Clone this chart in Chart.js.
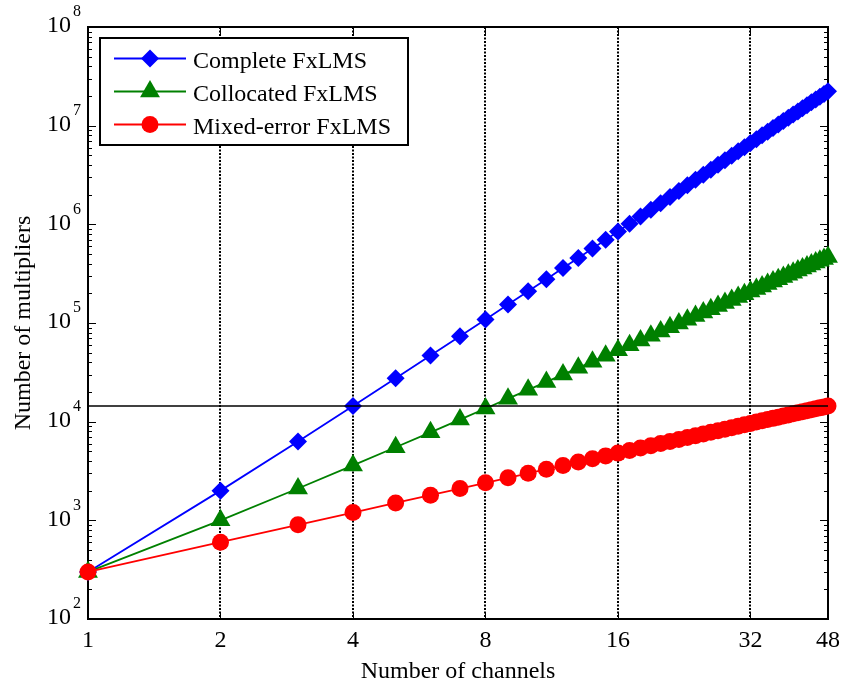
<!DOCTYPE html>
<html>
<head>
<meta charset="utf-8">
<script src="https://cdn.jsdelivr.net/npm/chart.js@4/dist/chart.umd.min.js"></script>
<style>
  html, body { margin: 0; padding: 0; background: #fff; }
  canvas { display: block; }
</style>
</head>
<body>
<canvas id="chart" width="842" height="687"></canvas>
<script>
// multiplier counts per number of channels
const channels = [1, 2, 3, 4, 5, 6, 7, 8, 9, 10, 11, 12, 13, 14, 15, 16,
    17, 18, 19, 20, 21, 22, 23, 24, 25, 26, 27, 28, 29, 30, 31, 32,
    33, 34, 35, 36, 37, 38, 39, 40, 41, 42, 43, 44, 45, 46, 47, 48];

const completeFxLMS = [300, 2000, 6300, 14400, 27500, 46800, 73500, 108800,
    153900, 210000, 278300, 360000, 456300, 568400, 697500, 844800,
    1011500, 1198800, 1407900, 1640000, 1896300, 2178000, 2486300, 2822400,
    3187500, 3582800, 4009500, 4468800, 4961900, 5490000, 6054300, 6656000,
    7296300, 7976400, 8697500, 9460800, 10267500, 11118800, 12015900, 12960000,
    13952300, 14994000, 16086300, 17230400, 18427500, 19678800, 20985500, 22348800];

const collocatedFxLMS = [300, 1000, 2100, 3600, 5500, 7800, 10500, 13600,
    17100, 21000, 25300, 30000, 35100, 40600, 46500, 52800,
    59500, 66600, 74100, 82000, 90300, 99000, 108100, 117600,
    127500, 137800, 148500, 159600, 171100, 183000, 195300, 208000,
    221100, 234600, 248500, 262800, 277500, 292600, 308100, 324000,
    340300, 357000, 374100, 391600, 409500, 427800, 446500, 465600];

const mixedErrorFxLMS = [300, 600, 900, 1200, 1500, 1800, 2100, 2400,
    2700, 3000, 3300, 3600, 3900, 4200, 4500, 4800,
    5100, 5400, 5700, 6000, 6300, 6600, 6900, 7200,
    7500, 7800, 8100, 8400, 8700, 9000, 9300, 9600,
    9900, 10200, 10500, 10800, 11100, 11400, 11700, 12000,
    12300, 12600, 12900, 13200, 13500, 13800, 14100, 14400];

// horizontal reference line
const refX = [1, 48];
const refY = [14400, 14400];

const xTicks = [1, 2, 4, 8, 16, 32, 48];
const yExponents = [2, 3, 4, 5, 6, 7, 8];

const SERIF = '"Liberation Serif", "Times New Roman", serif';

const series = [
    { label: 'Complete FxLMS', values: completeFxLMS, color: '#0000ff', pointStyle: 'rectRot', radius: 9 },
    { label: 'Collocated FxLMS', values: collocatedFxLMS, color: '#008000', pointStyle: 'triangle', radius: 11.5 },
    { label: 'Mixed-error FxLMS', values: mixedErrorFxLMS, color: '#ff0000', pointStyle: 'circle', radius: 8.5 }
];

const toPoints = (xs, ys) => xs.map((x, i) => ({ x, y: ys[i] }));

// first dataset is painted last, so the reference line sits on top
const datasets = [{
    label: 'ref', data: toPoints(refX, refY), borderColor: '#000', borderWidth: 1.5,
    pointRadius: 0, clip: false
}].concat(series.slice().reverse().map(s => ({
    label: s.label,
    data: toPoints(channels, s.values),
    borderColor: s.color,
    backgroundColor: s.color,
    borderWidth: 1.8,
    pointStyle: s.pointStyle,
    pointRadius: s.radius,
    pointBorderWidth: 0,
    pointBackgroundColor: s.color,
    clip: false
})));

function marker(ctx, style, r, x, y, color) {
    ctx.fillStyle = color;
    if (Chart.helpers && Chart.helpers.drawPoint) {
        Chart.helpers.drawPoint(ctx, { pointStyle: style, radius: r, rotation: 0, borderWidth: 0 }, x, y);
        return;
    }
    ctx.beginPath();
    ctx.arc(x, y, r, 0, Math.PI * 2);
    ctx.fill();
}

const axesFrame = {
    id: 'axesFrame',
    beforeDatasetsDraw(chart) {
        const { ctx, chartArea: { left, right, top, bottom } } = chart;
        const xs = chart.scales.x, ys = chart.scales.y;
        ctx.save();
        ctx.strokeStyle = '#000';
        ctx.lineWidth = 1;
        ctx.beginPath();
        xTicks.forEach(v => {
            const px = Math.round(xs.getPixelForValue(v)) + 0.5;
            ctx.moveTo(px, bottom); ctx.lineTo(px, bottom - 7);
            ctx.moveTo(px, top); ctx.lineTo(px, top + 7);
        });
        for (let e = 2; e <= 8; e++) {
            for (let m = 1; m <= 9; m++) {
                if (e === 8 && m > 1) break;
                const py = Math.round(ys.getPixelForValue(m * Math.pow(10, e))) + 0.5;
                const len = m === 1 ? 8 : 4;
                ctx.moveTo(left, py); ctx.lineTo(left + len, py);
                ctx.moveTo(right, py); ctx.lineTo(right - len, py);
            }
        }
        ctx.stroke();
        ctx.lineWidth = 2;
        ctx.strokeRect(left, top, right - left, bottom - top);
        ctx.restore();
    },
    afterDraw(chart) {
        const { ctx, chartArea: { left, right, top, bottom } } = chart;
        const xs = chart.scales.x, ys = chart.scales.y;
        ctx.save();
        ctx.fillStyle = '#000';

        // x tick labels
        ctx.font = '24px ' + SERIF;
        ctx.textAlign = 'center';
        ctx.textBaseline = 'alphabetic';
        xTicks.forEach(v => ctx.fillText(String(v), xs.getPixelForValue(v), bottom + 28));

        // y tick labels as 10^n
        yExponents.forEach(n => {
            const py = ys.getPixelForValue(Math.pow(10, n));
            ctx.font = '24px ' + SERIF;
            ctx.textAlign = 'right';
            ctx.textBaseline = 'middle';
            ctx.fillText('10', left - 17, py - 1);
            ctx.font = '16px ' + SERIF;
            ctx.textAlign = 'left';
            ctx.fillText(String(n), left - 15, py - 15);
        });

        // axis titles
        ctx.font = '24px ' + SERIF;
        ctx.textAlign = 'center';
        ctx.textBaseline = 'alphabetic';
        ctx.fillText('Number of channels', (left + right) / 2, bottom + 59);
        ctx.save();
        ctx.translate(30, (top + bottom) / 2);
        ctx.rotate(-Math.PI / 2);
        ctx.fillText('Number of multipliers', 0, 0);
        ctx.restore();

        // legend box
        const bx = 100, by = 38, bw = 308, bh = 107;
        ctx.fillStyle = '#fff';
        ctx.fillRect(bx, by, bw, bh);
        ctx.strokeStyle = '#000';
        ctx.lineWidth = 2;
        ctx.strokeRect(bx, by, bw, bh);
        series.forEach((s, i) => {
            const y = 58.5 + i * 33;
            ctx.strokeStyle = s.color;
            ctx.lineWidth = 1.8;
            ctx.beginPath();
            ctx.moveTo(114, y); ctx.lineTo(186, y);
            ctx.stroke();
            marker(ctx, s.pointStyle, s.radius, 150, y, s.color);
            ctx.fillStyle = '#000';
            ctx.font = '24px ' + SERIF;
            ctx.textAlign = 'left';
            ctx.textBaseline = 'alphabetic';
            ctx.fillText(s.label, 193, y + 9.5);
        });
        ctx.restore();
    }
};

new Chart(document.getElementById('chart'), {
    type: 'line',
    data: { datasets },
    options: {
        responsive: false,
        animation: false,
        layout: { padding: { left: 88, right: 14, top: 27, bottom: 68 } },
        plugins: { legend: { display: false }, tooltip: { enabled: false } },
        elements: { line: { tension: 0 } },
        scales: {
            x: {
                type: 'logarithmic', min: 1, max: 48,
                afterBuildTicks: s => { s.ticks = xTicks.map(v => ({ value: v })); },
                afterFit: s => { s.height = 0; },
                ticks: { display: false },
                grid: { color: '#000', lineWidth: 2, drawTicks: false },
                border: { display: false, dash: [2, 1.5] }
            },
            y: {
                type: 'logarithmic', min: 100, max: 1e8,
                afterFit: s => { s.width = 0; },
                ticks: { display: false },
                grid: { display: false },
                border: { display: false }
            }
        }
    },
    plugins: [axesFrame]
});
</script>
</body>
</html>
